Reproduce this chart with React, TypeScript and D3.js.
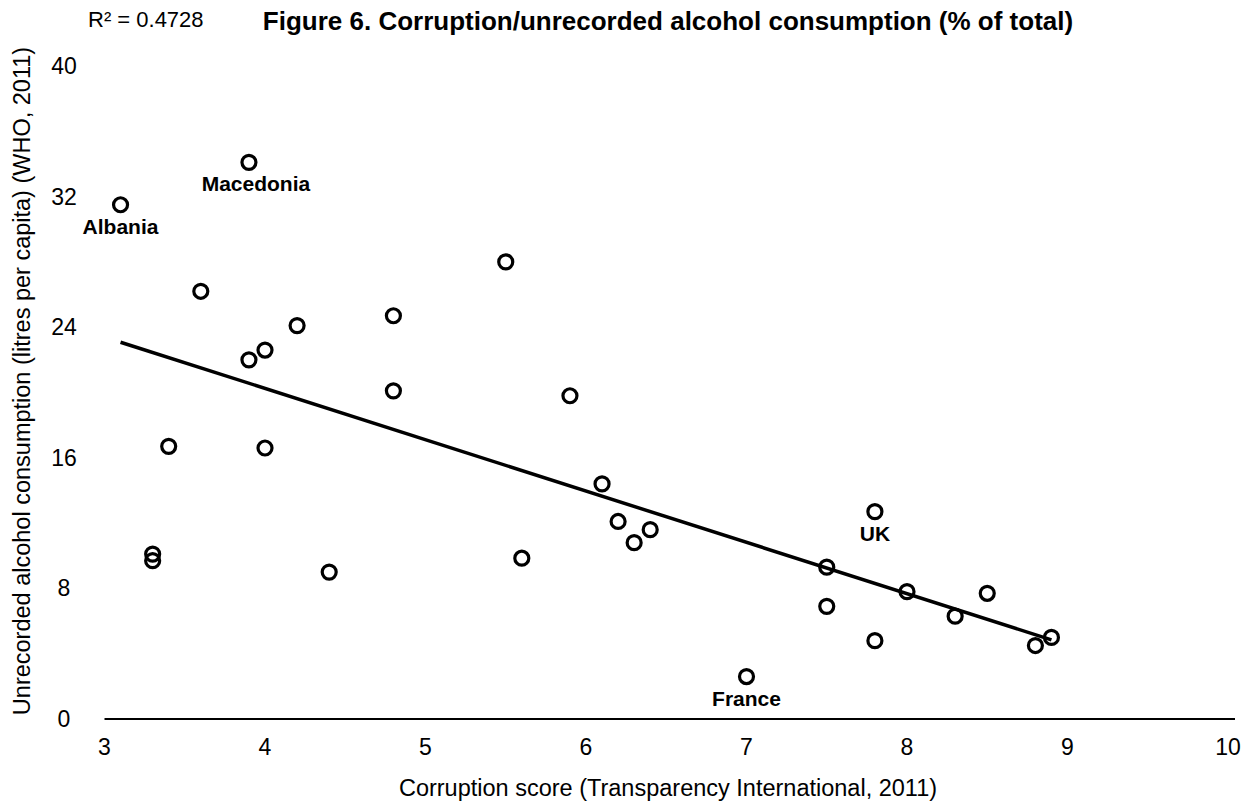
import React from "react";
import * as d3 from "d3";

// corruption score (x) vs unrecorded alcohol share (y)
const scores = [3.1, 3.9, 3.6, 4.2, 4.0, 3.9, 4.8, 5.5, 4.8, 5.9, 3.4, 4.0, 6.1, 6.2, 6.4, 6.3, 3.3, 3.3, 4.4, 5.6, 7.8, 7.5, 7.5, 8.0, 8.5, 8.3, 7.8, 8.8, 8.9, 7.0];
const unrecorded = [31.5, 34.1, 26.2, 24.1, 22.6, 22.0, 24.7, 28.0, 20.1, 19.8, 16.7, 16.6, 14.4, 12.1, 11.6, 10.8, 10.1, 9.7, 9.0, 9.85, 12.7, 9.3, 6.9, 7.8, 7.7, 6.3, 4.8, 4.5, 5.0, 2.6];
const labels = ["Albania", "Macedonia", "", "", "", "", "", "", "", "", "", "", "", "", "", "", "", "", "", "", "UK", "", "", "", "", "", "", "", "", "France"];

const xTicks = [3, 4, 5, 6, 7, 8, 9, 10];
const yTicks = [0, 8, 16, 24, 32, 40];

const W = 1254, H = 802;
const font = "'Liberation Sans', Arial, Helvetica, sans-serif";

export default function App() {
  const x = d3.scaleLinear().domain([3, 10]).range([104.5, 1228]);
  const y = d3.scaleLinear().domain([0, 40]).range([719, 66]);

  // least squares trend
  const mx = d3.mean(scores)!;
  const my = d3.mean(unrecorded)!;
  let sxy = 0, sxx = 0;
  scores.forEach((s, i) => {
    sxy += (s - mx) * (unrecorded[i] - my);
    sxx += (s - mx) * (s - mx);
  });
  const slope = sxy / sxx;
  const icpt = my - slope * mx;
  const [x0, x1] = d3.extent(scores) as [number, number];
  const line = d3.line<number>().x(d => x(d)).y(d => y(icpt + slope * d));

  return (
    <svg width={W} height={H} style={{ position: "absolute", left: 0, top: 0, background: "#fff" }} fontFamily={font}>
      <text x={88} y={27} fontSize={22}>R² = 0.4728</text>
      <text x={668} y={30} fontSize={26} fontWeight="bold" textAnchor="middle">Figure 6. Corruption/unrecorded alcohol consumption (% of total)</text>

      {/* y tick labels */}
      {yTicks.map(t => (
        <text key={t} x={64} y={y(t)} dy="0.35em" fontSize={23} textAnchor="middle">{t}</text>
      ))}
      {/* x axis */}
      <line x1={x(3)} x2={1235} y1={y(0)} y2={y(0)} stroke="#000" strokeWidth={2} />
      {xTicks.map(t => (
        <text key={t} x={x(t)} y={755} fontSize={23} textAnchor="middle">{t}</text>
      ))}
      <text x={668} y={796} fontSize={23.5} textAnchor="middle">Corruption score (Transparency International, 2011)</text>
      <text transform={`translate(30,381) rotate(-90)`} fontSize={23.5} textAnchor="middle">Unrecorded alcohol consumption (litres per capita) (WHO, 2011)</text>

      <path d={line([x0, x1]) || ""} fill="none" stroke="#000" strokeWidth={3.5} />

      {scores.map((s, i) => (
        <circle key={i} cx={x(s)} cy={y(unrecorded[i])} r={7} fill="none" stroke="#000" strokeWidth={3.2} />
      ))}
      {labels.map((l, i) => l ? (
        <text key={"l" + i} x={x(scores[i]) + (l === "Macedonia" ? 7 : 0)} y={y(unrecorded[i]) + 29} fontSize={21} fontWeight="bold" textAnchor="middle">{l}</text>
      ) : null)}
    </svg>
  );
}
